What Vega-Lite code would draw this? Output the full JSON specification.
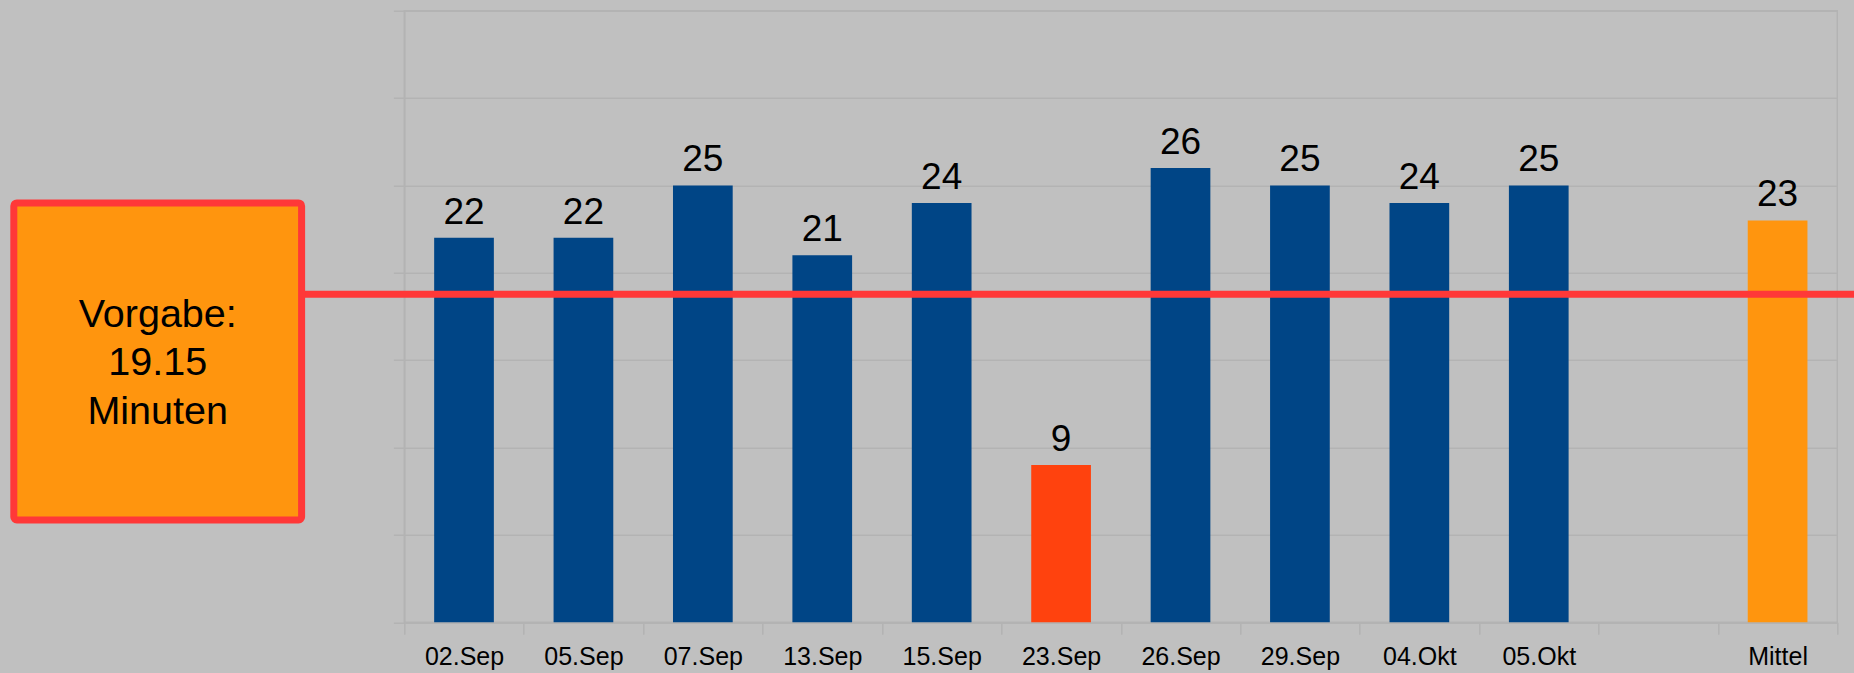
{
  "$schema": "https://vega.github.io/schema/vega-lite/v6.json",
  "width": 1433,
  "height": 611.6,
  "autosize": {"type": "none"},
  "padding": {"left": 404.3, "top": 10.7, "right": 16.7, "bottom": 50.7},
  "background": "#C0C0C0",
  "config": {
    "font": "Liberation Sans",
    "view": {"stroke": "#B3B3B3", "strokeWidth": 1.5},
    "axis": {"domainColor": "#B3B3B3", "tickColor": "#B3B3B3", "gridColor": "#B3B3B3", "domainWidth": 1.5, "tickWidth": 1.5, "gridWidth": 1.5}
  },
  "datasets": {
    "zeiten": [
      {"datum": "02.Sep", "minuten": 22, "art": "normal"},
      {"datum": "05.Sep", "minuten": 22, "art": "normal"},
      {"datum": "07.Sep", "minuten": 25, "art": "normal"},
      {"datum": "13.Sep", "minuten": 21, "art": "normal"},
      {"datum": "15.Sep", "minuten": 24, "art": "normal"},
      {"datum": "23.Sep", "minuten": 9, "art": "ausreisser"},
      {"datum": "26.Sep", "minuten": 26, "art": "normal"},
      {"datum": "29.Sep", "minuten": 25, "art": "normal"},
      {"datum": "04.Okt", "minuten": 24, "art": "normal"},
      {"datum": "05.Okt", "minuten": 25, "art": "normal"},
      {"datum": "Mittel", "minuten": 23, "art": "mittel"}
    ],
    "vorgabe": [
      {"linie": 18.77, "beschriftung": "Vorgabe:\n19.15\nMinuten"}
    ]
  },
  "layer": [
    {
      "data": {"name": "zeiten"},
      "encoding": {
        "x": {
          "field": "datum",
          "type": "nominal",
          "sort": null,
          "scale": {
            "domain": ["02.Sep", "05.Sep", "07.Sep", "13.Sep", "15.Sep", "23.Sep", "26.Sep", "29.Sep", "04.Okt", "05.Okt", " ", "Mittel"],
            "paddingInner": 0,
            "paddingOuter": 0
          },
          "axis": {
            "title": null,
            "labelAngle": 0,
            "tickBand": "extent",
            "labelFontSize": 25,
            "labelColor": "#000000",
            "labelPadding": 10,
            "tickSize": 12,
            "grid": false
          }
        },
        "y": {
          "field": "minuten",
          "type": "quantitative",
          "scale": {"domain": [0, 35], "nice": false},
          "axis": {
            "title": null,
            "values": [0, 5, 10, 15, 20, 25, 30, 35],
            "labels": false,
            "tickSize": 11,
            "grid": true
          }
        }
      },
      "layer": [
        {
          "mark": {"type": "bar", "width": {"band": 0.5}},
          "encoding": {
            "color": {
              "field": "art",
              "type": "nominal",
              "scale": {"domain": ["normal", "ausreisser", "mittel"], "range": ["#004586", "#FF420E", "#FF950E"]},
              "legend": null
            }
          }
        },
        {
          "mark": {"type": "text", "baseline": "alphabetic", "dy": -14, "fontSize": 37, "color": "#000000"},
          "encoding": {
            "text": {"field": "minuten", "type": "quantitative", "format": "d"}
          }
        }
      ]
    },
    {
      "data": {"name": "vorgabe"},
      "layer": [
        {
          "mark": {"type": "rule", "color": "#FF3838", "strokeWidth": 7},
          "encoding": {
            "x": {"datum": -0.86, "type": "quantitative", "scale": {"domain": [0, 12], "nice": false, "zero": false}, "axis": null},
            "x2": {"datum": 12.14},
            "y": {"field": "linie", "type": "quantitative", "axis": null}
          }
        },
        {
          "mark": {"type": "rect", "fill": "#FF950E", "stroke": "#FF3838", "strokeWidth": 7, "cornerRadius": 3},
          "encoding": {
            "x": {"datum": -3.27, "type": "quantitative", "scale": {"domain": [0, 12], "nice": false, "zero": false}, "axis": null},
            "x2": {"datum": -0.86},
            "y": {"datum": 24.0, "type": "quantitative", "axis": null},
            "y2": {"datum": 5.86}
          }
        },
        {
          "mark": {"type": "text", "lineBreak": "\n", "align": "center", "baseline": "alphabetic", "fontSize": 39.5, "lineHeight": 48.3, "color": "#000000"},
          "encoding": {
            "x": {"datum": -2.065, "type": "quantitative", "scale": {"domain": [0, 12], "nice": false, "zero": false}, "axis": null},
            "y": {"datum": 16.9, "type": "quantitative", "axis": null},
            "text": {"field": "beschriftung", "type": "nominal"}
          }
        }
      ]
    }
  ],
  "resolve": {"scale": {"x": "independent"}, "axis": {"x": "independent", "y": "independent"}}
}
